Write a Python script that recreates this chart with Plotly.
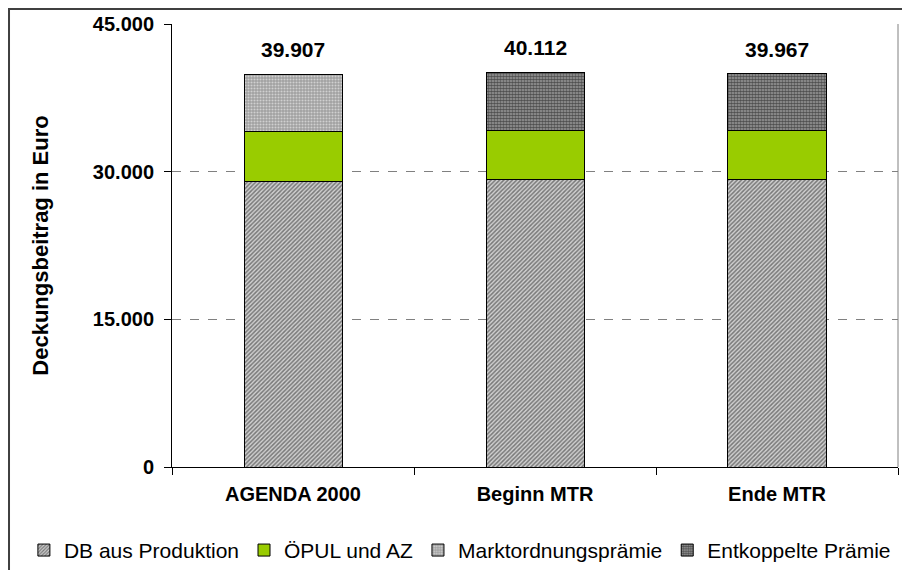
import plotly.graph_objects as go

categories = ["AGENDA 2000", "Beginn MTR", "Ende MTR"]
db_produktion = [29052, 29255, 29255]
oepul_az = [5079, 4978, 4978]
marktordnung = [5776, 0, 0]
entkoppelt = [0, 5879, 5734]
totals = [39907, 40112, 39967]
total_labels = ["39.907", "40.112", "39.967"]
y_ticks = [0, 15000, 30000, 45000]
y_tick_labels = ["0", "15.000", "30.000", "45.000"]

FONT = "Liberation Sans, Arial, sans-serif"
line = dict(color="black", width=1)

fig = go.Figure()
fig.add_trace(go.Bar(
    x=categories, y=db_produktion, name="DB aus Produktion",
    marker=dict(color="white", line=line,
                pattern=dict(shape="/", fgcolor="#202020", bgcolor="#d0d0d0", size=3, solidity=0.5)),
))
fig.add_trace(go.Bar(
    x=categories, y=oepul_az, name="ÖPUL und AZ",
    marker=dict(color="#99CC00", line=line),
))
fig.add_trace(go.Bar(
    x=categories, y=marktordnung, name="Marktordnungsprämie",
    marker=dict(color="white", line=line,
                pattern=dict(shape=".", fgcolor="#ffffff", bgcolor="#a0a0a0", size=3, solidity=0.4)),
))
fig.add_trace(go.Bar(
    x=categories, y=entkoppelt, name="Entkoppelte Prämie",
    marker=dict(color="white", line=line,
                pattern=dict(shape=".", fgcolor="#000000", bgcolor="#a0a0a0", size=3, solidity=0.65)),
))

annotations = [
    dict(x=c, y=t, text=lbl, xref="x", yref="y", showarrow=False,
         yanchor="bottom", yshift=11,
         font=dict(family=FONT, size=21, color="black", weight="bold"))
    for c, t, lbl in zip(categories, totals, total_labels)
]

fig.update_layout(
    barmode="stack",
    bargap=0.595,
    width=910, height=570,
    margin=dict(l=164, r=20, t=16, b=111, autoexpand=False),
    paper_bgcolor="white", plot_bgcolor="white",
    font=dict(family=FONT, size=18, color="black"),
    separators=",.",
    annotations=annotations,
    legend=dict(orientation="h", x=-0.204, xanchor="left", y=-0.142, yanchor="top",
                font=dict(family=FONT, size=21), traceorder="normal",
                itemwidth=30, tracegroupgap=0),
    xaxis=dict(
        automargin=False,
        showline=True, linecolor="black", linewidth=1,
        ticks="outside", ticklen=7, tickcolor="black", tickson="boundaries",
        ticklabelstandoff=9,
        tickfont=dict(family=FONT, size=20, color="black", weight="bold"),
        showgrid=False,
    ),
    yaxis=dict(
        automargin=False,
        range=[0, 45000], tickvals=y_ticks, ticktext=y_tick_labels,
        showline=True, linecolor="black", linewidth=1,
        ticks="outside", ticklen=7, tickcolor="black",
        ticklabelstandoff=6,
        tickfont=dict(family=FONT, size=20, color="black", weight="bold"),
        showgrid=True, gridcolor="#808080", griddash="dash", gridwidth=1,
        zeroline=False,
        title=dict(text="Deckungsbeitrag in Euro", standoff=38,
                   font=dict(family=FONT, size=22, color="black", weight="bold")),
    ),
    shapes=[
        dict(type="line", xref="paper", yref="paper", x0=1, x1=1, y0=0, y1=1,
             line=dict(color="#808080", width=1)),
        dict(type="rect", xref="paper", yref="paper", x0=-0.2245, x1=1.1, y0=-0.3, y1=1.0339,
             line=dict(color="#404040", width=2), fillcolor="rgba(0,0,0,0)", layer="above"),
    ],
)

fig.write_html("out.html")
